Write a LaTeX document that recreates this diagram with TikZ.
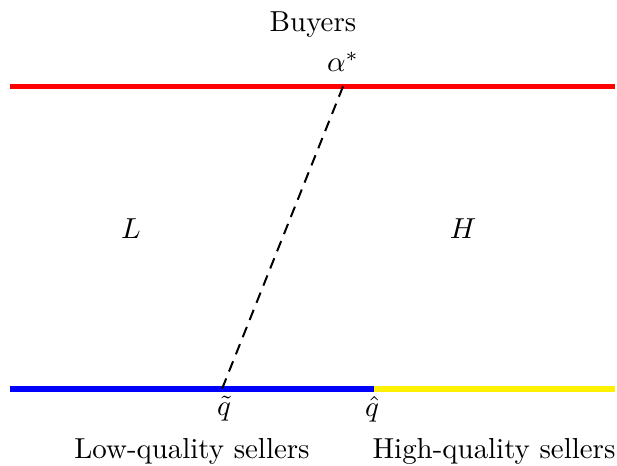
\documentclass[tikz,border=0pt]{standalone}
\begin{document}
\begin{tikzpicture}[x=0.346pt,y=-0.346pt,
  band/.style={line width=1.95pt},
  lbl/.style={inner sep=0pt}]
\useasboundingbox (0,0) rectangle (617,465);
\coordinate (tl) at (10,86.5);
\coordinate (tr) at (615,86.5);
\coordinate (bl) at (10,389);
\coordinate (bm) at (373.5,389);
\coordinate (br) at (615,389);
\coordinate (a) at (343,86.5);
\coordinate (qt) at (222,389);
\draw[band,red] (tl) -- (tr);
\draw[band,blue] (bl) -- (bm);
\draw[band,yellow] (bm) -- (br);
\draw[dash pattern=on 3.8pt off 2.6pt,line width=0.7pt] (a) -- (qt);
\node[lbl] (buy) at (313,25) {Buyers};
\node[lbl] (alpha) at (343,62) {$\alpha^*$};
\node[lbl] (L) at (131,229) {$L$};
\node[lbl] (H) at (463,229) {$H$};
\node[lbl] (qtl) at (224,409) {$\tilde{q}$};
\node[lbl] (qhl) at (372,409) {$\hat{q}$};
\node[lbl] (low) at (192,451) {Low-quality sellers};
\node[lbl] (high) at (494,451) {High-quality sellers};
\end{tikzpicture}
\end{document}
